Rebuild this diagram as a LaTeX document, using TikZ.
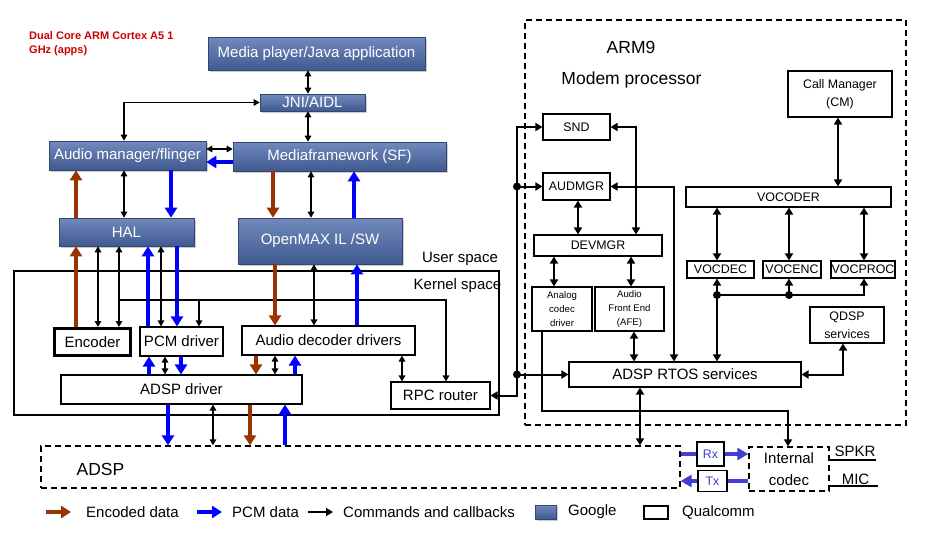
\documentclass[tikz,border=0pt]{standalone}
\usepackage{fontspec}
\setmainfont{Liberation Sans}
\usetikzlibrary{arrows.meta,shadows,positioning}
\definecolor{encbrown}{HTML}{993300}
\definecolor{pcmblue}{HTML}{0000FF}
\definecolor{rxblue}{HTML}{4040CC}
\definecolor{gtop}{HTML}{7189BD}
\definecolor{gbot}{HTML}{405A8F}
\definecolor{gline}{HTML}{34486F}
\definecolor{titlered}{HTML}{CC0000}

\tikzset{
  google/.style={draw=gline, line width=0.6pt, top color=gtop, bottom color=gbot, text=white,
    inner sep=0pt, font=\fontsize{15}{18}\selectfont,
    drop shadow={shadow xshift=1.5pt, shadow yshift=-1.5pt, opacity=0.4}},
  qbox/.style={draw, line width=1.1pt, fill=white, inner sep=0pt, font=\fontsize{15}{18}\selectfont},
  thickbox/.style={draw, line width=3pt, fill=white, inner sep=0pt, font=\fontsize{15}{18}\selectfont},
  mbox/.style={draw, line width=1.1pt, fill=white, inner sep=0pt, align=center, font=\fontsize{12.4}{15}\selectfont},
  tinybox/.style={mbox, font=\fontsize{9.6}{14}\selectfont},
  dashbox/.style={draw, line width=1.3pt, dash pattern=on 6pt off 4pt, inner sep=0pt},
  cmd/.style={line width=1.4pt, >={Triangle[length=6pt,width=6.5pt]}},
  mcmd/.style={line width=2pt, >={Triangle[length=7pt,width=8pt]}},
  encarr/.style={draw=encbrown, line width=3.5pt, -{Triangle[length=10pt,width=12pt]}},
  pcmarr/.style={draw=pcmblue, line width=3.5pt, -{Triangle[length=10pt,width=12pt]}},
  rxarr/.style={draw=rxblue, line width=4pt},
  lbl/.style={inner sep=0pt, font=\fontsize{15}{18}\selectfont},
  biglbl/.style={inner sep=0pt, font=\fontsize{17.5}{21}\selectfont},
  dot/.style={circle, fill, inner sep=0pt, minimum size=8pt},
}

\begin{document}
\begin{tikzpicture}[x=1pt,y=-1pt]
\useasboundingbox (0,0) rectangle (927,536);

% title
\node[anchor=west, align=left, text=titlered, inner sep=0pt, font=\bfseries\fontsize{11}{14}\selectfont] (title) at (29,44) {Dual Core ARM Cortex A5 1\\GHz (apps)};

% containers
\node[draw, line width=1.1pt, inner sep=0pt, minimum width=485pt, minimum height=144pt] (kernel) at (256.5,343) {};
\node[dashbox, minimum width=381pt, minimum height=405pt] (arm9) at (715.5,222.5) {};
\node[dashbox, minimum width=639pt, minimum height=42pt] (adsp) at (360.5,467) {};
\node[dashbox, lbl, align=center, minimum width=80pt, minimum height=44pt] (icodec) at (789,469) {Internal\\[4pt]codec};

% user space (Google)
\node[google, minimum width=217pt, minimum height=33pt] (mp) at (316.5,53.5) {Media player/Java application};
\node[google, minimum width=105pt, minimum height=17pt] (jni) at (312.5,102.5) {JNI/AIDL};
\node[google, minimum width=157pt, minimum height=29pt] (am) at (127.5,155.5) {Audio manager/flinger};
\node[google, minimum width=213pt, minimum height=29pt] (mf) at (339.5,156.5) {Mediaframework (SF)};
\node[google, minimum width=135pt, minimum height=28pt] (hal) at (126.5,232) {HAL};
\node[google, minimum width=164pt, minimum height=46pt] (omx) at (320,241) {OpenMAX IL /SW};

% kernel space
\node[thickbox, minimum width=76pt, minimum height=27pt] (enc) at (92.5,342) {Encoder};
\node[qbox, minimum width=83pt, minimum height=29pt] (pcmd) at (181.5,341.5) {PCM driver};
\node[qbox, minimum width=173pt, minimum height=29pt] (add) at (328.5,340.5) {Audio decoder drivers};
\node[qbox, minimum width=241pt, minimum height=29pt] (adspd) at (181.5,389.5) {ADSP driver};
\node[qbox, minimum width=99pt, minimum height=27pt] (rpc) at (440.5,395.5) {RPC router};

% modem processor
\node[mbox, minimum width=104pt, minimum height=46pt] (cm) at (840,94) {Call Manager\\[3pt](CM)};
\node[mbox, minimum width=67pt, minimum height=26pt] (snd) at (576.5,127) {SND};
\node[mbox, minimum width=67pt, minimum height=27pt] (audmgr) at (576.5,186.5) {AUDMGR};
\node[mbox, minimum width=128pt, minimum height=21pt] (devmgr) at (598,245.5) {DEVMGR};
\node[mbox, minimum width=205pt, minimum height=20pt] (vocoder) at (788.5,197) {VOCODER};
\node[mbox, minimum width=67pt, minimum height=17pt] (vocdec) at (720.5,269.5) {VOCDEC};
\node[mbox, minimum width=58pt, minimum height=17pt] (vocenc) at (792,269.5) {VOCENC};
\node[mbox, minimum width=64pt, minimum height=17pt] (vocproc) at (863,269.5) {VOCPROC};
\node[tinybox, minimum width=60pt, minimum height=44pt] (acd) at (562,309) {Analog\\codec\\driver};
\node[tinybox, minimum width=69pt, minimum height=44pt] (afe) at (629.5,309) {Audio\\Front End\\(AFE)};
\node[mbox, minimum width=74pt, minimum height=36pt] (qdsp) at (847,325) {QDSP\\[3pt]services};
\node[qbox, minimum width=232pt, minimum height=25pt] (rtos) at (685,374.5) {ADSP RTOS services};
\node[mbox, text=rxblue, minimum width=27pt, minimum height=24pt] (rx) at (710.5,454) {Rx};
\node[mbox, text=rxblue, minimum width=29pt, minimum height=21pt] (tx) at (712.5,481) {Tx};

% labels
\node[lbl] (userlbl) at (460,259) {User space};
\node[lbl] (kernlbl) at (457.5,286) {Kernel space};
\node[biglbl] (armlbl) at (631,47) {ARM9};
\node[biglbl] (modemlbl) at (631.5,80) {Modem processor};
\node[biglbl] (adsplbl) at (100.5,469) {ADSP};
\node[lbl] (spkr) at (855,451) {SPKR};
\node[lbl] (mic) at (855.5,479) {MIC};
\draw[line width=1.5pt] (icodec.east |- 0,460) -- (876,460);
\draw[line width=1.5pt] (icodec.east |- 0,486) -- (878,486);

% user space links
\draw[cmd,<->] (308,0 |- mp.south) -- (308,0 |- jni.north);
\draw[cmd,<->] (308,0 |- jni.south) -- (308,0 |- mf.north);
\draw[cmd,<->] (124,0 |- am.north) |- (jni.west);
\draw[cmd,<->] (am.east |- 0,149) -- (mf.west |- 0,149);
\draw[pcmarr] (mf.west |- 0,162) -- (am.east |- 0,162);
\draw[encarr] (76,0 |- hal.north) -- (76,0 |- am.south);
\draw[cmd,<->] (124,0 |- am.south) -- (124,0 |- hal.north);
\draw[pcmarr] (171,0 |- am.south) -- (171,0 |- hal.north);
\draw[encarr] (273,0 |- mf.south) -- (273,0 |- omx.north);
\draw[cmd,<->] (311,0 |- mf.south) -- (311,0 |- omx.north);
\draw[pcmarr] (354,0 |- omx.north) -- (354,0 |- mf.south);

% HAL to kernel
\draw[encarr] (76,0 |- enc.north) -- (76,0 |- hal.south);
\draw[cmd,<->] (98,0 |- hal.south) -- (98,0 |- enc.north);
\draw[cmd,<->] (119,0 |- hal.south) -- (119,0 |- enc.north);
\draw[pcmarr] (148,0 |- pcmd.north) -- (148,0 |- hal.south);
\draw[cmd,<->] (161,0 |- hal.south) -- (161,0 |- pcmd.north);
\draw[pcmarr] (177,0 |- hal.south) -- (177,0 |- pcmd.north);
\coordinate (kbus) at (119,300);
\draw[cmd,->] (kbus) -| (446,0 |- rpc.north);
\draw[cmd,->] (kbus -| 199,0) -- (199,0 |- pcmd.north);

% OpenMAX to drivers
\draw[encarr] (275,0 |- omx.south) -- (275,0 |- add.north);
\draw[cmd,<->] (314,0 |- omx.south) -- (314,0 |- add.north);
\draw[pcmarr] (357,0 |- add.north) -- (357,0 |- omx.south);

% drivers to ADSP driver
\draw[pcmarr] (149,0 |- adspd.north) -- (149,0 |- pcmd.south);
\draw[cmd,<->] (165,0 |- pcmd.south) -- (165,0 |- adspd.north);
\draw[pcmarr] (181,0 |- pcmd.south) -- (181,0 |- adspd.north);
\draw[encarr] (256,0 |- add.south) -- (256,0 |- adspd.north);
\draw[cmd,<->] (275,0 |- add.south) -- (275,0 |- adspd.north);
\draw[pcmarr] (295,0 |- adspd.north) -- (295,0 |- add.south);
\draw[cmd,<->] (402,0 |- add.south) -- (402,0 |- rpc.north);

% ADSP driver to ADSP
\draw[pcmarr] (168,0 |- adspd.south) -- (168,0 |- adsp.north);
\draw[cmd,<->] (213,0 |- adspd.south) -- (213,0 |- adsp.north);
\draw[encarr] (250,0 |- adspd.south) -- (250,0 |- adsp.north);
\draw[pcmarr] (285,0 |- adsp.north) -- (285,0 |- adspd.south);

% modem links
\draw[mcmd,<->] (rpc.east) -| (517,0 |- snd.west) -- (snd.west);
\node[dot] (jaud) at (517,0 |- audmgr.west) {};
\node[dot] (jrtos) at (517,0 |- rtos.west) {};
\draw[mcmd,->] (jaud.center) -- (audmgr.west);
\draw[mcmd,->] (jrtos.center) -- (rtos.west);
\draw[mcmd,<->] (snd.east) -| (636,0 |- devmgr.north);
\draw[mcmd,<->] (audmgr.east) -| (674,0 |- rtos.north);
\draw[mcmd,<->] (578,0 |- audmgr.south) -- (578,0 |- devmgr.north);
\draw[mcmd,<->] (554,0 |- devmgr.south) -- (554,0 |- acd.north);
\draw[mcmd,<->] (631,0 |- devmgr.south) -- (631,0 |- afe.north);
\draw[mcmd,<->] (634,0 |- afe.south) -- (634,0 |- rtos.north);
\draw[mcmd,->] (542,0 |- acd.south) -- (542,411) -| (788,0 |- icodec.north);
\draw[mcmd,<->] (640,0 |- rtos.south) -- (640,0 |- adsp.north);
\draw[mcmd,<->] (838,0 |- cm.south) -- (838,0 |- vocoder.north);
\draw[mcmd,<->] (717,0 |- vocoder.south) -- (717,0 |- vocdec.north);
\draw[mcmd,<->] (789,0 |- vocoder.south) -- (789,0 |- vocenc.north);
\draw[mcmd,<->] (864,0 |- vocoder.south) -- (864,0 |- vocproc.north);
\draw[mcmd,<->] (717,0 |- vocdec.south) -- (717,0 |- rtos.north);
\node[dot] (jvdec) at (717,295) {};
\node[dot] (jvenc) at (789,295) {};
\draw[mcmd,->] (jvdec.center) -| (864,0 |- vocproc.south);
\draw[mcmd,->] (jvenc.center) -- (789,0 |- vocenc.south);
\draw[mcmd,<->] (843,0 |- qdsp.south) |- (rtos.east);

% Rx / Tx
\draw[rxarr] (adsp.east |- rx.west) -- (rx.west);
\draw[rxarr, -{Triangle[length=11pt,width=12pt]}] (rx.east) -- (icodec.west |- rx.east);
\draw[rxarr] (icodec.west |- tx.east) -- (tx.east);
\draw[rxarr, -{Triangle[length=11pt,width=12pt]}] (tx.west) -- (adsp.east |- tx.west);

% legend
\node[lbl, anchor=west] (lgenc) at (86,512) {Encoded data};
\node[lbl, anchor=west] (lgpcm) at (232,512) {PCM data};
\node[lbl, anchor=west] (lgcmd) at (343,512) {Commands and callbacks};
\node[google, minimum width=21pt, minimum height=14pt] (lggoo) at (545.5,512) {};
\node[lbl, anchor=west] (lggootxt) at (568,512) {Google};
\node[qbox, minimum width=24pt, minimum height=13pt] (lgqc) at (656,512.5) {};
\node[lbl, anchor=west] (lgqctxt) at (682,512) {Qualcomm};
\draw[encarr] ([xshift=-40pt]lgenc.west) -- ([xshift=-15pt]lgenc.west);
\draw[pcmarr] ([xshift=-35pt]lgpcm.west) -- ([xshift=-10pt]lgpcm.west);
\draw[mcmd,->] ([xshift=-35pt]lgcmd.west) -- ([xshift=-10pt]lgcmd.west);
\end{tikzpicture}
\end{document}
